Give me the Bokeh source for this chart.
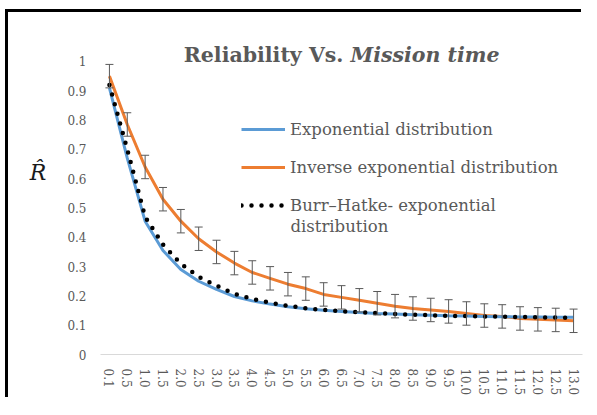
from bokeh.plotting import figure
from bokeh.models import (Range1d, FactorRange, Legend, LegendItem, Label, Whisker,
                          TeeHead, ColumnDataSource, FixedTicker)
from bokeh.embed import file_html
from bokeh.resources import INLINE

# ---------------- data ----------------
times = ["0.1", "0.5", "1.0", "1.5", "2.0", "2.5", "3.0", "3.5", "4.0", "4.5", "5.0",
         "5.5", "6.0", "6.5", "7.0", "7.5", "8.0", "8.5", "9.0", "9.5", "10.0",
         "10.5", "11.0", "11.5", "12.0", "12.5", "13.0"]
exponential = [0.91, 0.67, 0.455, 0.355, 0.29, 0.25, 0.222, 0.198, 0.183, 0.172, 0.163,
               0.156, 0.151, 0.147, 0.143, 0.140, 0.138, 0.136, 0.134, 0.132, 0.131,
               0.130, 0.129, 0.128, 0.128, 0.127, 0.127]
inverse_exp = [0.95, 0.785, 0.64, 0.53, 0.455, 0.395, 0.35, 0.312, 0.28, 0.26, 0.24,
               0.225, 0.205, 0.195, 0.185, 0.175, 0.165, 0.157, 0.152, 0.147, 0.14,
               0.133, 0.13, 0.123, 0.12, 0.118, 0.115]
inverse_err = [0.04, 0.04, 0.04, 0.04, 0.04, 0.04, 0.04, 0.04, 0.04, 0.04, 0.04,
               0.04, 0.04, 0.04, 0.04, 0.04, 0.04, 0.04, 0.04, 0.04, 0.04,
               0.04, 0.04, 0.04, 0.04, 0.04, 0.04]
burr_hatke = [0.92, 0.70, 0.47, 0.375, 0.31, 0.265, 0.235, 0.207, 0.19, 0.177, 0.166,
              0.158, 0.152, 0.148, 0.144, 0.141, 0.138, 0.136, 0.134, 0.132, 0.131,
              0.130, 0.129, 0.128, 0.127, 0.126, 0.125]
y_ticks = [0, 0.1, 0.2, 0.3, 0.4, 0.5, 0.6, 0.7, 0.8, 0.9, 1]
series_names = ["Exponential distribution", "Inverse exponential distribution",
                "Burr\u2013Hatke- exponential"]
series3_cont = "distribution"
title_plain = "Reliability Vs."
title_italic = "Mission time"
y_label = "R\u0302\n"

GRAY = "#595959"
FONT = "DejaVu Serif"

p = figure(x_range=FactorRange(*times), y_range=Range1d(0, 1.1433),
           width=576, height=388, output_backend="svg", toolbar_location=None,
           min_border_left=92, min_border_top=7, min_border_right=2, min_border_bottom=46)
p.styles = {"margin-left": "8px", "margin-top": "12px",
            "box-shadow": "-3px -3px 0 0 black"}
p.outline_line_color = None
p.xgrid.grid_line_color = None
p.ygrid.grid_line_color = None

src = ColumnDataSource(dict(
    t=times, exp=exponential, inv=inverse_exp, burr=burr_hatke,
    upper=[v + e for v, e in zip(inverse_exp, inverse_err)],
    lower=[v - e for v, e in zip(inverse_exp, inverse_err)],
))

r_inv = p.line("t", "inv", source=src, line_color="#ED7D31", line_width=3)
r_exp = p.line("t", "exp", source=src, line_color="#5B9BD5", line_width=3)
r_burr = p.line("t", "burr", source=src, line_color="black", line_width=4.5,
                line_dash="0 10", line_cap="round")

wh = Whisker(base="t", upper="upper", lower="lower", source=src,
             line_color=GRAY, line_width=1, level="annotation",
             upper_head=TeeHead(size=8, line_color=GRAY, line_width=1),
             lower_head=TeeHead(size=8, line_color=GRAY, line_width=1))
p.add_layout(wh)

# axes
p.xaxis.axis_line_color = "#d9d9d9"
p.xaxis.major_tick_line_color = None
p.xaxis.minor_tick_line_color = None
p.xaxis.major_tick_out = 0
p.xaxis.major_label_orientation = "vertical"
p.xaxis.major_label_standoff = 14
p.xaxis.major_label_text_font = FONT
p.xaxis.major_label_text_font_size = "12px"
p.xaxis.major_label_text_color = GRAY

p.yaxis.axis_line_color = None
p.yaxis.major_tick_line_color = None
p.yaxis.minor_tick_line_color = None
p.yaxis.major_tick_out = 0
p.yaxis.ticker = FixedTicker(ticks=y_ticks)
p.yaxis.major_label_overrides = {0: "0", 1: "1"}
p.yaxis.major_label_standoff = 14
p.yaxis.major_label_text_font = FONT
p.yaxis.major_label_text_font_size = "12px"
p.yaxis.major_label_text_color = GRAY
p.yaxis.axis_label = y_label
p.yaxis.axis_label_orientation = "horizontal"
p.yaxis.axis_label_standoff = 18
p.yaxis.axis_label_text_font = FONT
p.yaxis.axis_label_text_font_size = "22px"
p.yaxis.axis_label_text_font_style = "italic"
p.yaxis.axis_label_text_color = "#1a1a1a"

# legend
legend = Legend(items=[LegendItem(label=series_names[0], renderers=[r_exp]),
                       LegendItem(label=series_names[1], renderers=[r_inv]),
                       LegendItem(label=series_names[2], renderers=[r_burr])],
                location=(141, 139), padding=0, margin=0, spacing=18,
                glyph_width=44, glyph_height=20, label_height=20, label_standoff=5,
                background_fill_alpha=0, border_line_color=None,
                label_text_font=FONT, label_text_font_size="16.5px",
                label_text_color=GRAY)
p.add_layout(legend)
p.add_layout(Label(x=190, y=128, x_units="screen", y_units="screen", text=series3_cont,
                   text_align="left", text_baseline="middle", text_font=FONT,
                   text_font_size="16.5px", text_color=GRAY))

# title (two parts)
p.add_layout(Label(x=243, y=300, x_units="screen", y_units="screen", text=title_plain,
                   text_align="right", text_baseline="alphabetic", text_font=FONT,
                   text_font_size="20.5px", text_font_style="bold", text_color=GRAY))
p.add_layout(Label(x=250, y=300, x_units="screen", y_units="screen", text=title_italic,
                   text_align="left", text_baseline="alphabetic", text_font=FONT,
                   text_font_size="20.5px", text_font_style="bold italic", text_color=GRAY))

open("out.html", "w").write(file_html(p, INLINE))
